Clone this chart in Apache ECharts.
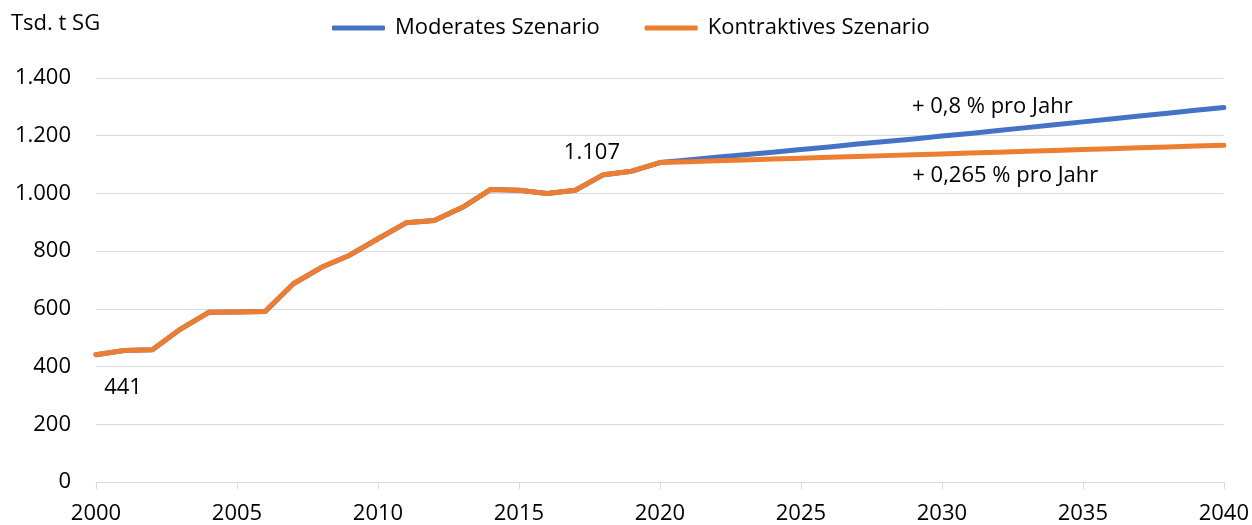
<!DOCTYPE html>
<html>
<head>
<meta charset="utf-8">
<script src="https://cdn.jsdelivr.net/npm/echarts@6/dist/echarts.min.js"></script>
<style>
  html, body { margin: 0; padding: 0; background: #fff; }
  #chart { width: 1252px; height: 525px; }
</style>
</head>
<body>
<div id="chart"></div>
<script>
// Jahre (x-Achse)
const years = [2000, 2001, 2002, 2003, 2004, 2005, 2006, 2007, 2008, 2009, 2010,
  2011, 2012, 2013, 2014, 2015, 2016, 2017, 2018, 2019, 2020,
  2021, 2022, 2023, 2024, 2025, 2026, 2027, 2028, 2029, 2030,
  2031, 2032, 2033, 2034, 2035, 2036, 2037, 2038, 2039, 2040]

// Ist-Werte 2000-2020, Tsd. t SG
const history = [441, 456, 458, 530, 588, 589, 591, 687, 744, 786, 843,
  898, 906, 952, 1014, 1011, 1000, 1011, 1065, 1077, 1107]

// Prognose 2021-2040
const moderate = [1116, 1125, 1134, 1143, 1152, 1161, 1171, 1180, 1189, 1199,
  1208, 1218, 1228, 1238, 1248, 1258, 1268, 1278, 1288, 1298]
const contractive = [1110, 1113, 1116, 1119, 1122, 1125, 1128, 1131, 1134, 1137,
  1140, 1143, 1146, 1149, 1152, 1155, 1158, 1161, 1164, 1167]

const seriesNames = ['Moderates Szenario', 'Kontraktives Szenario']
const yTicks = { min: 0, max: 1400, interval: 200 }
const xTicks = { min: 2000, max: 2040, interval: 5 }

const FONT = 'Open Sans'
const FS = 22

function deNum(v) {
  return String(v).replace(/\B(?=(\d{3})+(?!\d))/g, '.')
}

function buildData(forecast) {
  const values = history.concat(forecast)
  return years.map((y, i) => ({ value: [y, values[i]] }))
}

const blueData = buildData(moderate)
const orangeData = buildData(contractive)

// Beschriftungen an einzelnen Punkten
orangeData[0].label = {
  show: true, position: 'bottom', offset: [27, 17],
  formatter: p => deNum(p.value[1])
}
orangeData[20].label = {
  show: true, position: 'top', offset: [-68, 6],
  formatter: p => deNum(p.value[1])
}
blueData[32].label = {
  show: true, position: 'top', distance: 13, offset: [-6, 0],
  formatter: '+ 0,8 % pro Jahr'
}
orangeData[32].label = {
  show: true, position: 'bottom', distance: 13, offset: [7, 0],
  formatter: '+ 0,265 % pro Jahr'
}

function lineSeries(name, color, data) {
  return {
    name,
    type: 'line',
    data,
    symbol: 'circle',
    symbolSize: 0,
    showSymbol: true,
    lineStyle: { color, width: 5, cap: 'round', join: 'round' },
    itemStyle: { color },
    label: { show: false, color: '#000', fontFamily: FONT, fontSize: FS },
    emphasis: { disabled: true },
    animation: false
  }
}

const chart = echarts.init(document.getElementById('chart'), null, { renderer: 'canvas' })
chart.setOption({
  backgroundColor: '#fff',
  textStyle: { fontFamily: FONT },
  title: {
    text: 'Tsd. t SG',
    left: 6,
    top: 8,
    textStyle: { fontFamily: FONT, fontSize: FS, fontWeight: 'normal', color: '#000' }
  },
  legend: {
    data: seriesNames.map(n => ({ name: n, icon: 'roundRect' })),
    left: 327,
    top: 12,
    itemWidth: 53,
    itemHeight: 5,
    itemGap: 45,
    textStyle: { fontFamily: FONT, fontSize: FS, color: '#000', padding: [0, 0, 0, 5] }
  },
  grid: { left: 96, right: 28, top: 78, bottom: 43, containLabel: false },
  xAxis: {
    type: 'value',
    min: xTicks.min,
    max: xTicks.max,
    interval: xTicks.interval,
    axisLine: { show: true, lineStyle: { color: '#d9d9d9', width: 1 } },
    axisTick: { show: true, length: 7, lineStyle: { color: '#d9d9d9' } },
    axisLabel: { color: '#000', fontFamily: FONT, fontSize: FS, margin: 21, formatter: v => String(v) },
    splitLine: { show: false }
  },
  yAxis: {
    type: 'value',
    min: yTicks.min,
    max: yTicks.max,
    interval: yTicks.interval,
    axisLine: { show: false },
    axisTick: { show: false },
    axisLabel: { color: '#000', fontFamily: FONT, fontSize: FS, margin: 25, formatter: v => deNum(v) },
    splitLine: { lineStyle: { color: '#d9d9d9', width: 1 } }
  },
  series: [
    lineSeries(seriesNames[0], '#4472C4', blueData),
    lineSeries(seriesNames[1], '#ED7D31', orangeData)
  ]
})
</script>
</body>
</html>
